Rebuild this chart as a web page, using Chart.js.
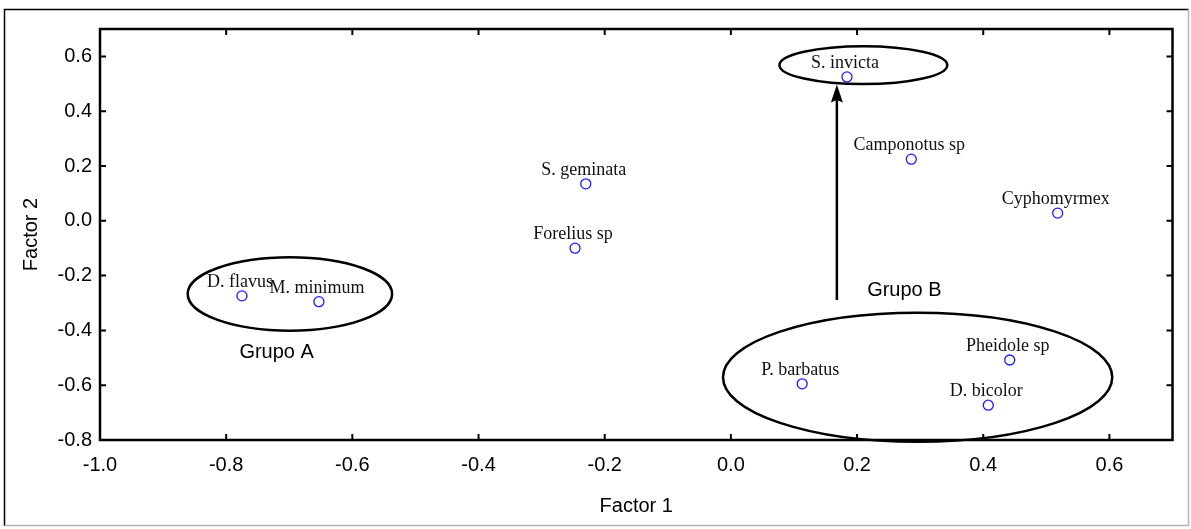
<!DOCTYPE html>
<html><head><meta charset="utf-8">
<script src="https://cdn.jsdelivr.net/npm/chart.js@4.4.1/dist/chart.umd.min.js"></script>
<style>html,body{margin:0;padding:0;background:#fff;} #wrap{width:1191px;height:529px;position:relative;}</style>
</head><body><div id="wrap"><canvas id="c" width="1191" height="529"></canvas></div>
<script>
// ---- data ----
const species = ['D. flavus','M. minimum','S. geminata','Forelius sp','S. invicta','Camponotus sp','Cyphomyrmex','P. barbatus','Pheidole sp','D. bicolor'];
const factor1 = [-0.775,-0.653,-0.230,-0.247,0.184,0.286,0.518,0.113,0.442,0.408];
const factor2 = [-0.274,-0.295,0.135,-0.100,0.525,0.225,0.028,-0.595,-0.508,-0.673];
const xTicks = [-1.0,-0.8,-0.6,-0.4,-0.2,0.0,0.2,0.4,0.6];
const xTickLabels = ['-1.0','-0.8','-0.6','-0.4','-0.2','0.0','0.2','0.4','0.6'];
const yTicks = [-0.8,-0.6,-0.4,-0.2,0.0,0.2,0.4,0.6];
const yTickLabels = ['-0.8','-0.6','-0.4','-0.2','0.0','0.2','0.4','0.6'];
// ---- annotations (data units) ----
const groupNames = ['Grupo A','Grupo B'];
const groupLabelX = [-0.720, 0.275];
const groupLabelY = [-0.482, -0.255];
const ellipseCX = [-0.699, 0.210, 0.296];
const ellipseCY = [-0.267, 0.568, -0.571];
const ellipseRX = [0.162, 0.133, 0.3085];
const ellipseRY = [0.134, 0.069, 0.2356];
const arrowX = [0.168, 0.168];
const arrowY = [-0.289, 0.497];

const deco = {
  id: 'deco',
  beforeDraw(chart) {
    const ctx = chart.ctx;
    ctx.save();
    ctx.fillStyle = '#fff';
    ctx.fillRect(0, 0, chart.width, chart.height);
    ctx.lineWidth = 1.5;
    ctx.strokeStyle = '#000';
    ctx.beginPath(); ctx.moveTo(4.5, 526); ctx.lineTo(4.5, 9.5); ctx.lineTo(1188.5, 9.5); ctx.stroke();
    ctx.strokeStyle = '#b4b4b4';
    ctx.beginPath(); ctx.moveTo(1188.5, 9.5); ctx.lineTo(1188.5, 525.5); ctx.lineTo(4.5, 525.5); ctx.stroke();
    ctx.restore();
  },
  afterDatasetsDraw(chart) {
    const {ctx, chartArea: a, scales: {x, y}} = chart;
    ctx.save();
    // ellipses
    ctx.strokeStyle = '#000';
    ctx.lineWidth = 2.5;
    for (let i = 0; i < ellipseCX.length; i++) {
      const cx = x.getPixelForValue(ellipseCX[i]);
      const cy = y.getPixelForValue(ellipseCY[i]);
      const rx = Math.abs(x.getPixelForValue(ellipseCX[i] + ellipseRX[i]) - cx);
      const ry = Math.abs(y.getPixelForValue(ellipseCY[i] + ellipseRY[i]) - cy);
      ctx.beginPath(); ctx.ellipse(cx, cy, rx, ry, 0, 0, Math.PI * 2); ctx.stroke();
    }
    // arrow
    const ax = x.getPixelForValue(arrowX[0]);
    const ay0 = y.getPixelForValue(arrowY[0]);
    const ay1 = y.getPixelForValue(arrowY[1]);
    ctx.lineWidth = 2.5;
    ctx.beginPath(); ctx.moveTo(ax, ay0); ctx.lineTo(ax, ay1 + 14); ctx.stroke();
    ctx.fillStyle = '#000';
    ctx.beginPath();
    ctx.moveTo(ax, ay1); ctx.lineTo(ax + 6, ay1 + 18); ctx.lineTo(ax, ay1 + 15.5); ctx.lineTo(ax - 6, ay1 + 18); ctx.closePath(); ctx.fill();
    // frame
    ctx.lineWidth = 2.5;
    ctx.strokeRect(a.left, a.top, a.right - a.left, a.bottom - a.top);
    ctx.lineWidth = 2;
    ctx.beginPath();
    xTicks.forEach(v => { const px = x.getPixelForValue(v); ctx.moveTo(px, a.bottom); ctx.lineTo(px, a.bottom - 6); ctx.moveTo(px, a.top); ctx.lineTo(px, a.top + 6); });
    yTicks.forEach(v => { const py = y.getPixelForValue(v); ctx.moveTo(a.left, py); ctx.lineTo(a.left + 6, py); ctx.moveTo(a.right, py); ctx.lineTo(a.right - 6, py); });
    ctx.stroke();
    // point labels
    const meta = chart.getDatasetMeta(0);
    ctx.font = '18px "Liberation Serif", "Times New Roman", serif';
    ctx.fillStyle = '#111';
    ctx.textAlign = 'center';
    ctx.textBaseline = 'alphabetic';
    meta.data.forEach((pt, i) => { ctx.fillText(species[i], pt.x - 2, pt.y - 9); });
    // group labels
    ctx.font = '20px "Liberation Sans", Arial, sans-serif';
    ctx.fillStyle = '#000';
    ctx.textBaseline = 'middle';
    groupNames.forEach((g, i) => { ctx.fillText(g, x.getPixelForValue(groupLabelX[i]), y.getPixelForValue(groupLabelY[i])); });
    ctx.restore();
  }
};

const tickFont = {family: '"Liberation Sans", Arial, sans-serif', size: 20};
new Chart(document.getElementById('c'), {
  type: 'scatter',
  data: {datasets: [{
    data: factor1.map((v, i) => ({x: v, y: factor2[i]})),
    pointStyle: 'circle', pointRadius: 5, pointHoverRadius: 5,
    pointBorderColor: '#1a1aff', pointBackgroundColor: 'rgba(255,255,255,0)', pointBorderWidth: 1.3,
    showLine: false, clip: false
  }]},
  options: {
    responsive: false, animation: false, devicePixelRatio: 1,
    layout: {padding: {left: 0, top: 29, right: 18.5, bottom: 0}},
    plugins: {legend: {display: false}, tooltip: {enabled: false}},
    scales: {
      x: {
        type: 'linear', min: -1, max: 0.7,
        afterBuildTicks: s => { s.ticks = xTicks.map(v => ({value: v})); },
        afterFit: s => { s.height = 89; },
        grid: {display: false, drawTicks: false}, border: {display: false},
        ticks: {padding: 13, color: '#000', font: tickFont, autoSkip: false, maxRotation: 0, callback: (v, i) => xTickLabels[i]},
        title: {display: true, text: 'Factor 1', color: '#000', font: tickFont, padding: {top: 0, bottom: 11}}
      },
      y: {
        type: 'linear', min: -0.8, max: 0.7,
        afterBuildTicks: s => { s.ticks = yTicks.map(v => ({value: v})); },
        afterFit: s => { s.width = 100; },
        grid: {display: false, drawTicks: false}, border: {display: false},
        ticks: {padding: 8, color: '#000', font: tickFont, autoSkip: false, callback: (v, i) => yTickLabels[i]},
        title: {display: true, text: 'Factor 2', color: '#000', font: tickFont, padding: {top: 19, bottom: 0}}
      }
    }
  },
  plugins: [deco]
});
</script>
</body></html>
